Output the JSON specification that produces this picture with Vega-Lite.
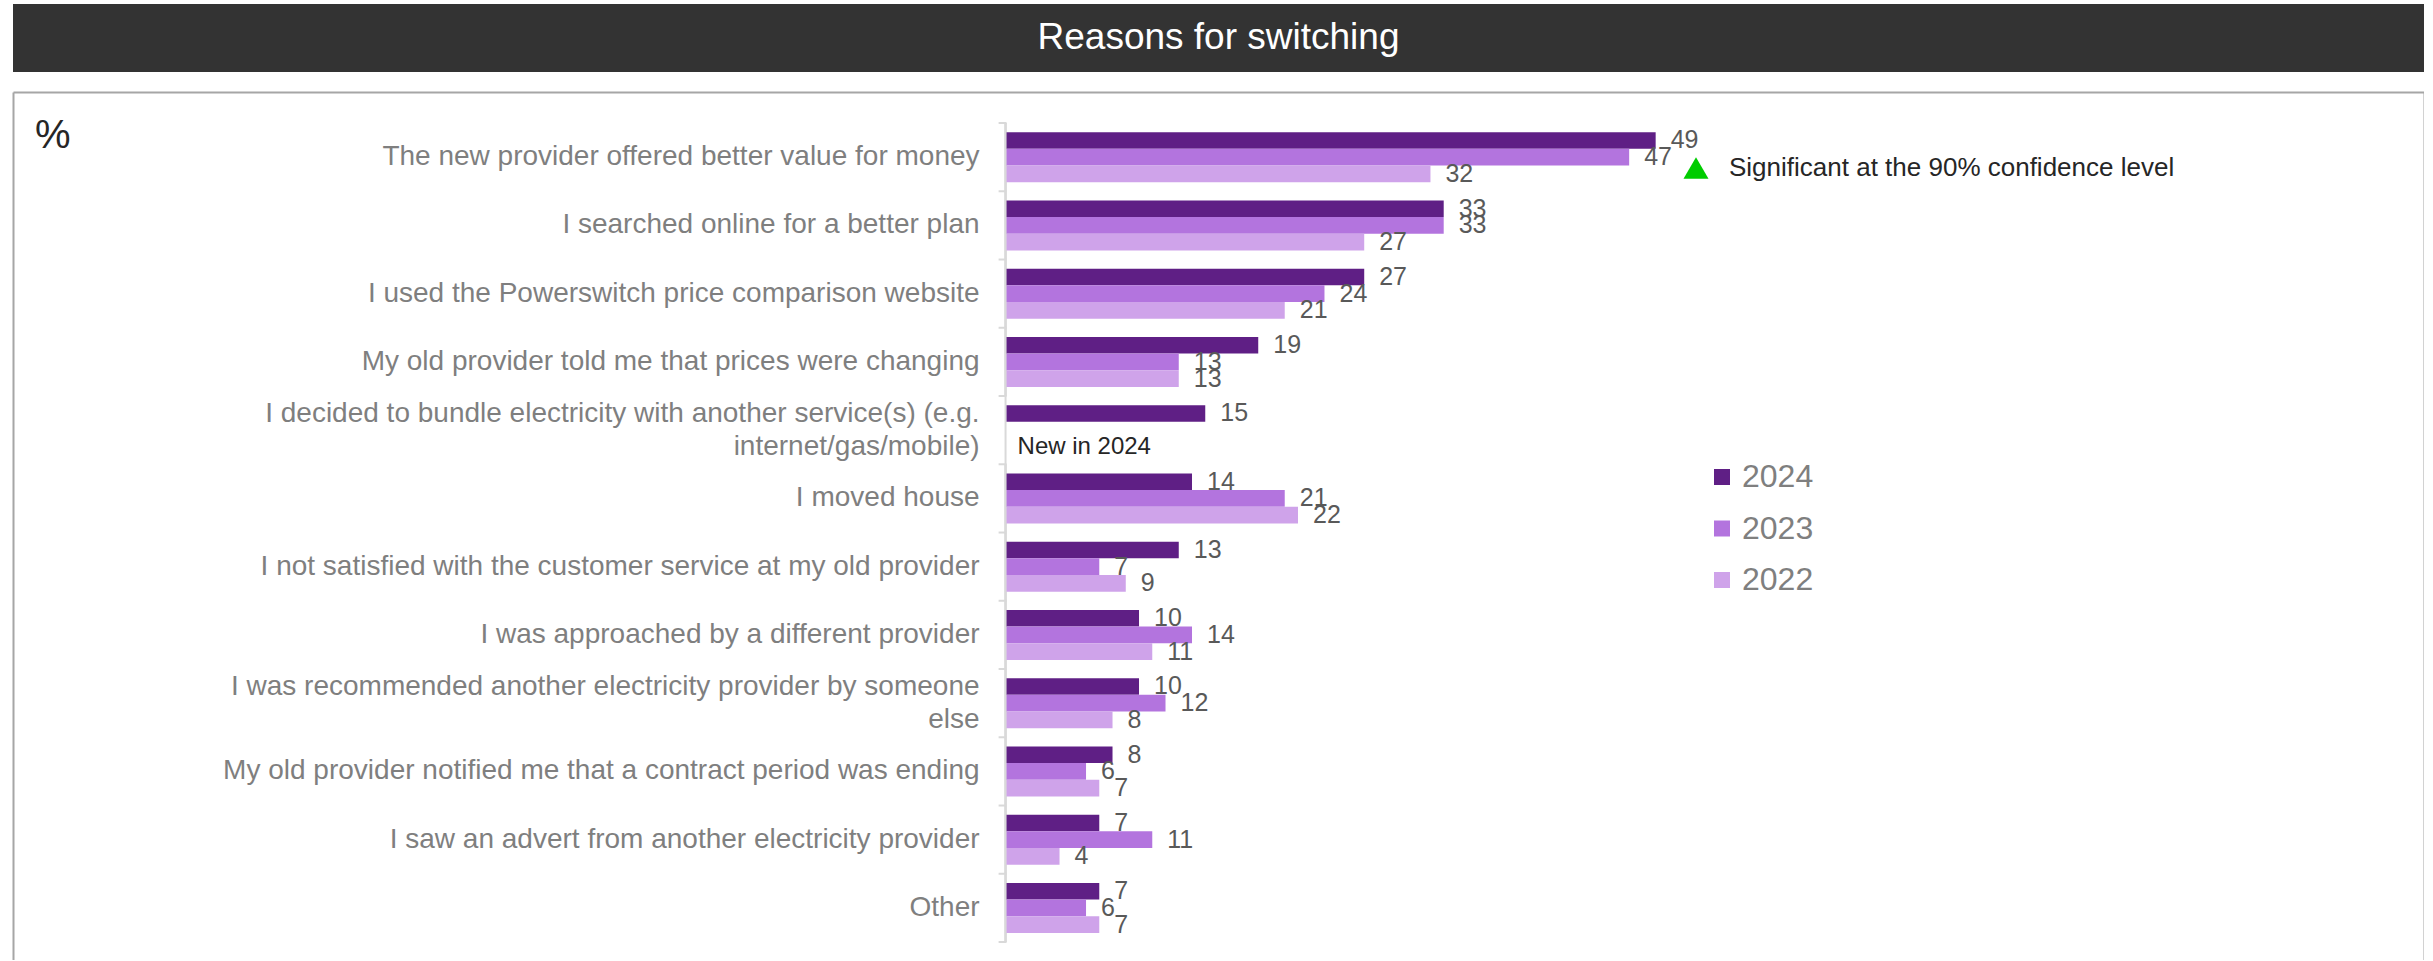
{
  "$schema": "https://vega.github.io/schema/vega-lite/v6.json",
  "padding": {"left": 13, "top": 4, "right": 0, "bottom": 0},
  "background": "white",
  "spacing": 20,
  "config": {"font": "Liberation Sans", "view": {"stroke": null}},
  "datasets": {
    "main": [
      {"reason": "The new provider offered better value for money", "year": "2024", "value": 49},
      {"reason": "The new provider offered better value for money", "year": "2023", "value": 47},
      {"reason": "The new provider offered better value for money", "year": "2022", "value": 32},
      {"reason": "I searched online for a better plan", "year": "2024", "value": 33},
      {"reason": "I searched online for a better plan", "year": "2023", "value": 33},
      {"reason": "I searched online for a better plan", "year": "2022", "value": 27},
      {"reason": "I used the Powerswitch price comparison website", "year": "2024", "value": 27},
      {"reason": "I used the Powerswitch price comparison website", "year": "2023", "value": 24},
      {"reason": "I used the Powerswitch price comparison website", "year": "2022", "value": 21},
      {"reason": "My old provider told me that prices were changing", "year": "2024", "value": 19},
      {"reason": "My old provider told me that prices were changing", "year": "2023", "value": 13},
      {"reason": "My old provider told me that prices were changing", "year": "2022", "value": 13},
      {"reason": "I decided to bundle electricity with another service(s) (e.g.|internet/gas/mobile)", "year": "2024", "value": 15},
      {"reason": "I moved house", "year": "2024", "value": 14},
      {"reason": "I moved house", "year": "2023", "value": 21},
      {"reason": "I moved house", "year": "2022", "value": 22},
      {"reason": "I not satisfied with the customer service at my old provider", "year": "2024", "value": 13},
      {"reason": "I not satisfied with the customer service at my old provider", "year": "2023", "value": 7},
      {"reason": "I not satisfied with the customer service at my old provider", "year": "2022", "value": 9},
      {"reason": "I was approached by a different provider", "year": "2024", "value": 10},
      {"reason": "I was approached by a different provider", "year": "2023", "value": 14},
      {"reason": "I was approached by a different provider", "year": "2022", "value": 11},
      {"reason": "I was recommended another electricity provider by someone|else", "year": "2024", "value": 10},
      {"reason": "I was recommended another electricity provider by someone|else", "year": "2023", "value": 12},
      {"reason": "I was recommended another electricity provider by someone|else", "year": "2022", "value": 8},
      {"reason": "My old provider notified me that a contract period was ending", "year": "2024", "value": 8},
      {"reason": "My old provider notified me that a contract period was ending", "year": "2023", "value": 6},
      {"reason": "My old provider notified me that a contract period was ending", "year": "2022", "value": 7},
      {"reason": "I saw an advert from another electricity provider", "year": "2024", "value": 7},
      {"reason": "I saw an advert from another electricity provider", "year": "2023", "value": 11},
      {"reason": "I saw an advert from another electricity provider", "year": "2022", "value": 4},
      {"reason": "Other", "year": "2024", "value": 7},
      {"reason": "Other", "year": "2023", "value": 6},
      {"reason": "Other", "year": "2022", "value": 7}
    ]
  },
  "vconcat": [
    {
      "width": 2411,
      "height": 68,
      "view": {"fill": "#333333", "stroke": null},
      "data": {"values": [{"t": "Reasons for switching"}]},
      "mark": {"type": "text", "color": "#ffffff", "fontSize": 37, "align": "center", "baseline": "middle"},
      "encoding": {
        "x": {"field": "t", "type": "nominal", "axis": null},
        "y": {"field": "t", "type": "nominal", "axis": null},
        "text": {"field": "t"}
      }
    },
    {
      "width": 2411,
      "height": 868,
      "view": {"stroke": null},
      "data": {"name": "main"},
      "layer": [
        {
          "mark": {"type": "rect", "color": "#d9d9d9"},
          "encoding": {
            "y": {"field": "reason", "type": "nominal", "axis": null, "scale": {"domain": ["The new provider offered better value for money", "I searched online for a better plan", "I used the Powerswitch price comparison website", "My old provider told me that prices were changing", "I decided to bundle electricity with another service(s) (e.g.|internet/gas/mobile)", "I moved house", "I not satisfied with the customer service at my old provider", "I was approached by a different provider", "I was recommended another electricity provider by someone|else", "My old provider notified me that a contract period was ending", "I saw an advert from another electricity provider", "Other"], "paddingInner": 0, "paddingOuter": 0.359, "align": 0.633}},
            "x": {"datum": -0.15, "scale": {"domain": [-75, 107], "nice": false, "zero": false}, "axis": {"orient": "top", "values": [-75, 107], "domain": true, "domainColor": "#a6a6a6", "domainWidth": 2, "ticks": false, "labels": false, "grid": true, "gridColor": "#a6a6a6", "gridWidth": 2, "title": null}},
            "x2": {"datum": 0}
          }
        },
        {
          "transform": [{"filter": "datum.year == '2024'"}],
          "mark": {"type": "rule", "color": "#d9d9d9", "strokeWidth": 2},
          "encoding": {
            "y": {"field": "reason", "type": "nominal", "bandPosition": 0, "axis": null, "scale": {"domain": ["The new provider offered better value for money", "I searched online for a better plan", "I used the Powerswitch price comparison website", "My old provider told me that prices were changing", "I decided to bundle electricity with another service(s) (e.g.|internet/gas/mobile)", "I moved house", "I not satisfied with the customer service at my old provider", "I was approached by a different provider", "I was recommended another electricity provider by someone|else", "My old provider notified me that a contract period was ending", "I saw an advert from another electricity provider", "Other"], "paddingInner": 0, "paddingOuter": 0.359, "align": 0.633}},
            "x": {"datum": -0.6, "scale": {"domain": [-75, 107], "nice": false, "zero": false}, "axis": {"orient": "top", "values": [-75, 107], "domain": true, "domainColor": "#a6a6a6", "domainWidth": 2, "ticks": false, "labels": false, "grid": true, "gridColor": "#a6a6a6", "gridWidth": 2, "title": null}},
            "x2": {"datum": 0}
          }
        },
        {
          "transform": [{"filter": "datum.year == '2024' && datum.reason == 'Other'"}],
          "mark": {"type": "rule", "color": "#d9d9d9", "strokeWidth": 2},
          "encoding": {
            "y": {"field": "reason", "type": "nominal", "bandPosition": 1, "axis": null, "scale": {"domain": ["The new provider offered better value for money", "I searched online for a better plan", "I used the Powerswitch price comparison website", "My old provider told me that prices were changing", "I decided to bundle electricity with another service(s) (e.g.|internet/gas/mobile)", "I moved house", "I not satisfied with the customer service at my old provider", "I was approached by a different provider", "I was recommended another electricity provider by someone|else", "My old provider notified me that a contract period was ending", "I saw an advert from another electricity provider", "Other"], "paddingInner": 0, "paddingOuter": 0.359, "align": 0.633}},
            "x": {"datum": -0.6, "scale": {"domain": [-75, 107], "nice": false, "zero": false}, "axis": {"orient": "top", "values": [-75, 107], "domain": true, "domainColor": "#a6a6a6", "domainWidth": 2, "ticks": false, "labels": false, "grid": true, "gridColor": "#a6a6a6", "gridWidth": 2, "title": null}},
            "x2": {"datum": 0}
          }
        },
        {
          "transform": [{"filter": "datum.year == '2024' && indexof(datum.reason, '|') < 0"}],
          "mark": {"type": "text", "align": "right", "baseline": "middle", "dx": -27, "fontSize": 28, "color": "#7f7f7f"},
          "encoding": {
            "y": {"field": "reason", "type": "nominal", "axis": null, "scale": {"domain": ["The new provider offered better value for money", "I searched online for a better plan", "I used the Powerswitch price comparison website", "My old provider told me that prices were changing", "I decided to bundle electricity with another service(s) (e.g.|internet/gas/mobile)", "I moved house", "I not satisfied with the customer service at my old provider", "I was approached by a different provider", "I was recommended another electricity provider by someone|else", "My old provider notified me that a contract period was ending", "I saw an advert from another electricity provider", "Other"], "paddingInner": 0, "paddingOuter": 0.359, "align": 0.633}},
            "x": {"datum": 0, "scale": {"domain": [-75, 107], "nice": false, "zero": false}, "axis": {"orient": "top", "values": [-75, 107], "domain": true, "domainColor": "#a6a6a6", "domainWidth": 2, "ticks": false, "labels": false, "grid": true, "gridColor": "#a6a6a6", "gridWidth": 2, "title": null}},
            "text": {"field": "reason", "type": "nominal"}
          }
        },
        {
          "transform": [{"filter": "datum.year == '2024' && indexof(datum.reason, '|') >= 0"}],
          "mark": {"type": "text", "align": "right", "baseline": "middle", "dx": -27, "dy": -16.5, "fontSize": 28, "color": "#7f7f7f", "lineBreak": "|", "lineHeight": 33},
          "encoding": {
            "y": {"field": "reason", "type": "nominal", "axis": null, "scale": {"domain": ["The new provider offered better value for money", "I searched online for a better plan", "I used the Powerswitch price comparison website", "My old provider told me that prices were changing", "I decided to bundle electricity with another service(s) (e.g.|internet/gas/mobile)", "I moved house", "I not satisfied with the customer service at my old provider", "I was approached by a different provider", "I was recommended another electricity provider by someone|else", "My old provider notified me that a contract period was ending", "I saw an advert from another electricity provider", "Other"], "paddingInner": 0, "paddingOuter": 0.359, "align": 0.633}},
            "x": {"datum": 0, "scale": {"domain": [-75, 107], "nice": false, "zero": false}, "axis": {"orient": "top", "values": [-75, 107], "domain": true, "domainColor": "#a6a6a6", "domainWidth": 2, "ticks": false, "labels": false, "grid": true, "gridColor": "#a6a6a6", "gridWidth": 2, "title": null}},
            "text": {"field": "reason", "type": "nominal"}
          }
        },
        {
          "mark": {"type": "bar"},
          "encoding": {
            "y": {"field": "reason", "type": "nominal", "axis": null, "scale": {"domain": ["The new provider offered better value for money", "I searched online for a better plan", "I used the Powerswitch price comparison website", "My old provider told me that prices were changing", "I decided to bundle electricity with another service(s) (e.g.|internet/gas/mobile)", "I moved house", "I not satisfied with the customer service at my old provider", "I was approached by a different provider", "I was recommended another electricity provider by someone|else", "My old provider notified me that a contract period was ending", "I saw an advert from another electricity provider", "Other"], "paddingInner": 0, "paddingOuter": 0.359, "align": 0.633}},
            "x": {"field": "value", "type": "quantitative", "scale": {"domain": [-75, 107], "nice": false, "zero": false}, "axis": {"orient": "top", "values": [-75, 107], "domain": true, "domainColor": "#a6a6a6", "domainWidth": 2, "ticks": false, "labels": false, "grid": true, "gridColor": "#a6a6a6", "gridWidth": 2, "title": null}},
            "yOffset": {"field": "year", "type": "nominal", "scale": {"domain": ["2024", "2023", "2022"], "paddingInner": 0, "paddingOuter": 0.547}},
            "color": {
              "field": "year",
              "type": "nominal",
              "scale": {"domain": ["2024", "2023", "2022"], "range": ["#5f1f85", "#b374de", "#cfa3ea"]},
              "legend": {
                "title": null,
                "orient": "none",
                "legendX": 1693,
                "legendY": 457,
                "padding": 0,
                "symbolType": "square",
                "symbolSize": 256,
                "symbolStrokeWidth": 0,
                "labelFontSize": 32,
                "labelColor": "#7f7f7f",
                "labelOffset": 4,
                "rowPadding": 19.5
              }
            }
          }
        },
        {
          "mark": {"type": "text", "align": "left", "baseline": "middle", "dx": 15, "fontSize": 25, "color": "#595959"},
          "encoding": {
            "y": {"field": "reason", "type": "nominal", "axis": null, "scale": {"domain": ["The new provider offered better value for money", "I searched online for a better plan", "I used the Powerswitch price comparison website", "My old provider told me that prices were changing", "I decided to bundle electricity with another service(s) (e.g.|internet/gas/mobile)", "I moved house", "I not satisfied with the customer service at my old provider", "I was approached by a different provider", "I was recommended another electricity provider by someone|else", "My old provider notified me that a contract period was ending", "I saw an advert from another electricity provider", "Other"], "paddingInner": 0, "paddingOuter": 0.359, "align": 0.633}},
            "x": {"field": "value", "type": "quantitative", "scale": {"domain": [-75, 107], "nice": false, "zero": false}, "axis": {"orient": "top", "values": [-75, 107], "domain": true, "domainColor": "#a6a6a6", "domainWidth": 2, "ticks": false, "labels": false, "grid": true, "gridColor": "#a6a6a6", "gridWidth": 2, "title": null}},
            "yOffset": {"field": "year", "type": "nominal", "scale": {"domain": ["2024", "2023", "2022"], "paddingInner": 0, "paddingOuter": 0.547}},
            "text": {"field": "value", "type": "quantitative"}
          }
        },
        {
          "data": {"values": [{"reason": "I decided to bundle electricity with another service(s) (e.g.|internet/gas/mobile)", "year": "2022", "note": "New in 2024"}]},
          "mark": {"type": "text", "align": "left", "baseline": "middle", "dx": 11, "fontSize": 24, "color": "#262626"},
          "encoding": {
            "y": {"field": "reason", "type": "nominal", "axis": null, "scale": {"domain": ["The new provider offered better value for money", "I searched online for a better plan", "I used the Powerswitch price comparison website", "My old provider told me that prices were changing", "I decided to bundle electricity with another service(s) (e.g.|internet/gas/mobile)", "I moved house", "I not satisfied with the customer service at my old provider", "I was approached by a different provider", "I was recommended another electricity provider by someone|else", "My old provider notified me that a contract period was ending", "I saw an advert from another electricity provider", "Other"], "paddingInner": 0, "paddingOuter": 0.359, "align": 0.633}},
            "x": {"datum": 0, "scale": {"domain": [-75, 107], "nice": false, "zero": false}, "axis": {"orient": "top", "values": [-75, 107], "domain": true, "domainColor": "#a6a6a6", "domainWidth": 2, "ticks": false, "labels": false, "grid": true, "gridColor": "#a6a6a6", "gridWidth": 2, "title": null}},
            "yOffset": {"field": "year", "type": "nominal", "scale": {"domain": ["2024", "2023", "2022"], "paddingInner": 0, "paddingOuter": 0.547}},
            "text": {"field": "note"}
          }
        },
        {
          "data": {"values": [{"reason": "The new provider offered better value for money", "unit": "%"}]},
          "mark": {"type": "text", "align": "left", "baseline": "alphabetic", "dy": -9, "fontSize": 40, "color": "#262626"},
          "encoding": {
            "y": {"field": "reason", "type": "nominal", "axis": null, "scale": {"domain": ["The new provider offered better value for money", "I searched online for a better plan", "I used the Powerswitch price comparison website", "My old provider told me that prices were changing", "I decided to bundle electricity with another service(s) (e.g.|internet/gas/mobile)", "I moved house", "I not satisfied with the customer service at my old provider", "I was approached by a different provider", "I was recommended another electricity provider by someone|else", "My old provider notified me that a contract period was ending", "I saw an advert from another electricity provider", "Other"], "paddingInner": 0, "paddingOuter": 0.359, "align": 0.633}},
            "x": {"datum": -73.34, "scale": {"domain": [-75, 107], "nice": false, "zero": false}, "axis": {"orient": "top", "values": [-75, 107], "domain": true, "domainColor": "#a6a6a6", "domainWidth": 2, "ticks": false, "labels": false, "grid": true, "gridColor": "#a6a6a6", "gridWidth": 2, "title": null}},
            "text": {"field": "unit"}
          }
        },
        {
          "data": {"values": [{"sig": "Significant at the 90% confidence level"}]},
          "mark": {"type": "point", "filled": true, "size": 0, "color": "#00cc00"},
          "encoding": {
            "shape": {
              "field": "sig",
              "type": "nominal",
              "scale": {"range": ["triangle-up"]},
              "legend": {
                "title": null,
                "orient": "none",
                "legendX": 1670,
                "legendY": 151,
                "padding": 0,
                "symbolSize": 625,
                "symbolFillColor": "#00cc00",
                "symbolStrokeColor": "#00cc00",
                "symbolStrokeWidth": 0,
                "symbolOpacity": 1,
                "labelFontSize": 26,
                "labelColor": "#262626",
                "labelOffset": 20,
                "labelLimit": 1000
              }
            }
          }
        }
      ]
    }
  ]
}
